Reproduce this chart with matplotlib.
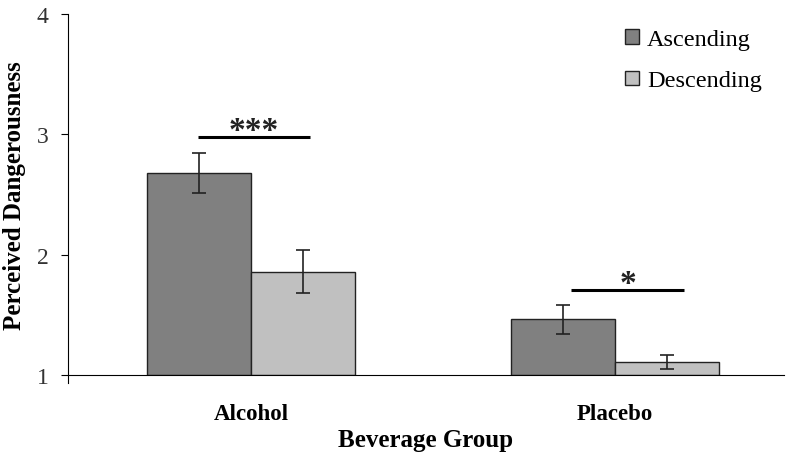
import numpy as np
import matplotlib.pyplot as plt

groups = ["Alcohol", "Placebo"]
ascending = [2.68, 1.465]
ascending_err = [0.166, 0.12]
descending = [1.86, 1.11]
descending_err = [0.18, 0.058]
sig_labels = ["***", "*"]
sig_heights = [2.98, 1.71]
sig_spans = [(-0.146, 0.162), (-0.121, 0.19)]
yticks = [1, 2, 3, 4]

plt.rcParams['font.family'] = ['Liberation Serif', 'DejaVu Serif']

fig = plt.figure(figsize=(8, 4.6), dpi=100)
ax = fig.add_axes([0.085, 0.1826, 0.895, 0.7844])
ax.spines['top'].set_visible(False)
ax.spines['right'].set_visible(False)
ax.spines['bottom'].set_position(('data', 1))
ax.spines['left'].set_bounds(0.935, 4)

x = np.arange(len(groups))
w = 0.285
err_kw = dict(elinewidth=1.2, capsize=5, capthick=1.2, ecolor='#222222')
ax.bar(x - w / 2, np.array(ascending) - 1, w, bottom=1, yerr=ascending_err,
       color='#808080', edgecolor='#222222', linewidth=1, error_kw=err_kw, label='Ascending')
ax.bar(x + w / 2, np.array(descending) - 1, w, bottom=1, yerr=descending_err,
       color='#c0c0c0', edgecolor='#222222', linewidth=1, error_kw=err_kw, label='Descending')

# significance markers
for xi, lab, h, (a, b) in zip(x, sig_labels, sig_heights, sig_spans):
    ax.plot([xi + a, xi + b], [h, h], color='black', lw=2.2, solid_capstyle='butt')
    ax.text(xi + (a + b) / 2, h - 0.08, lab, ha='center', va='bottom',
            fontsize=24, fontweight='bold', color='#222222')

ax.set_xlim(-0.503, 1.464)
ax.set_ylim(1, 4)
ax.set_yticks(yticks)
ax.set_xticks(x)
ax.set_xticklabels(groups)
ax.tick_params(axis='x', length=0, pad=20)
ax.tick_params(axis='y', direction='out', length=5, pad=9)
plt.setp(ax.get_xticklabels(), fontsize=16.5, fontweight='bold')
plt.setp(ax.get_yticklabels(), fontsize=17, color='#333333')

ax.set_ylabel('Perceived Dangerousness', fontsize=18, fontweight='bold', labelpad=8)
ax.set_xlabel('Beverage Group', fontsize=18, fontweight='bold', labelpad=3)

ax.legend(loc='upper right', bbox_to_anchor=(1.0, 1.02), frameon=False,
          fontsize=17.5, handlelength=0.55, handleheight=0.55, handletextpad=0.35,
          labelspacing=0.85)

fig.savefig('out.png', dpi=100)
